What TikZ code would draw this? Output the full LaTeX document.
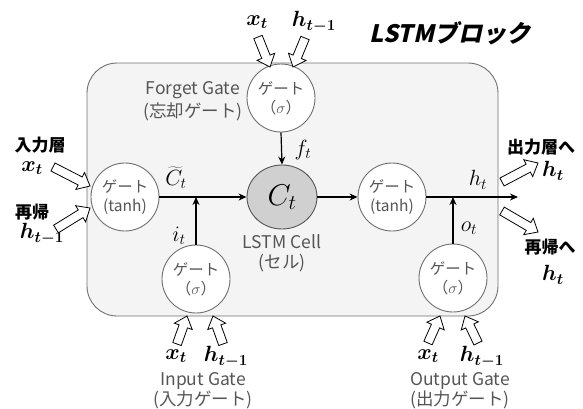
\RequirePackage{fix-cm}
\documentclass[tikz,border=0pt]{standalone}
\usepackage{fontspec}
\usepackage{bm}
\usetikzlibrary{calc,arrows.meta,shapes.geometric}
\newfontfamily\jp{Noto Sans CJK JP}
\newfontfamily\jpsl[FakeSlant=0.22]{Noto Sans CJK JP}
\definecolor{blockfill}{HTML}{F4F4F4}
\definecolor{blockline}{HTML}{707070}
\definecolor{txtgray}{HTML}{555555}
\definecolor{cellfill}{HTML}{D0D0D0}
\newcommand{\hollowarrow}[2]{%
  \coordinate (ban) at ($(#2)!11pt!(#1)$);
  \draw[barrow] ($(#1)!4.5pt!90:(#2)$) -- ($(ban)!4.5pt!90:(#2)$) -- ($(ban)!9.5pt!90:(#2)$) -- (#2)
    -- ($(ban)!9.5pt!-90:(#2)$) -- ($(ban)!4.5pt!-90:(#2)$) -- ($(#1)!4.5pt!-90:(#2)$) -- cycle;}
\begin{document}
\begin{tikzpicture}[x=1pt,y=-1pt,
  gate/.style={circle,draw=blockline,fill=white,line width=0.9pt,minimum size=68pt,inner sep=0pt,
    align=center,text=txtgray,font=\jp\fontsize{15.5}{19}\selectfont},
  flow/.style={line width=1.2pt,-{Stealth[length=8pt,width=7pt]}},
  barrow/.style={draw=black,fill=white,line width=0.8pt,line join=miter},
  gtxt/.style={text=txtgray,font=\jp\fontsize{17.5}{20}\selectfont,inner sep=0pt},
  btxt/.style={text=black,font=\jp\bfseries\fontsize{17}{20}\selectfont,inner sep=0pt},
  bmath/.style={font=\fontsize{22}{25}\selectfont,inner sep=0pt},
  lmath/.style={font=\fontsize{22}{25}\selectfont,inner sep=0pt}]
\useasboundingbox (0,0) rectangle (583,408);
% block
\draw[draw=blockline,fill=blockfill,line width=0.9pt,rounded corners=30pt] (87,63) rectangle (498,316);
\node[font=\jpsl\bfseries\fontsize{24}{28}\selectfont,inner sep=0pt] (title) at (450,33) {LSTMブロック};
% gates
\node[gate] (FG) at (281,98) {ゲート\\（$\sigma$）};
\node[gate] (TL) at (125,197) {ゲート\\(tanh)};
\node[gate] (IG) at (196,279) {ゲート\\（$\sigma$）};
\node[gate] (TR) at (392,197) {ゲート\\(tanh)};
\node[gate] (OG) at (453,278) {ゲート\\（$\sigma$）};
\node[ellipse,draw=txtgray,fill=cellfill,line width=0.9pt,minimum width=70pt,minimum height=64pt,inner sep=0pt,font=\fontsize{30}{32}\selectfont] (C) at (282,197) {$C_t$};
% flows
\coordinate (hout) at (518,197);
\draw[flow] (TL.east) -- (C.west);
\draw[flow] (FG.south) -- (C.north);
\draw[flow] (C.east) -- (TR.west);
\draw[flow] (TR.east) -- (hout);
\draw[flow] (IG.north) -- (IG.north |- TL.east);
\draw[flow] (OG.north) -- (OG.north |- TR.east);
% inner labels
\node[lmath] (ctil) at (176,178) {$\widetilde{C}_t$};
\node[lmath] (ft) at (303,150) {$f_t$};
\node[lmath] (it) at (179,236) {$i_t$};
\node[lmath] (ht) at (478,180) {$h_t$};
\node[lmath] (ot) at (469,228) {$o_t$};
\node[gtxt,anchor=east] (fgl1) at (240,90) {Forget Gate};
\node[gtxt,anchor=east] (fgl2) at (243,112) {(忘却ゲート)};
\node[gtxt] (cl1) at (282,242) {LSTM Cell};
\node[gtxt] (cl2) at (282,263) {(セル)};
\node[gtxt] (igl1) at (203,381) {Input Gate};
\node[gtxt] (igl2) at (203,400) {(入力ゲート)};
\node[gtxt] (ogl1) at (460,381) {Output Gate};
\node[gtxt] (ogl2) at (460,400) {(出力ゲート)};
% outer labels
\node[btxt] (inl) at (40,145) {入力層};
\node[bmath] (inx) at (32,168) {$\bm{x_t}$};
\node[btxt] (rel) at (32,212) {再帰};
\node[bmath] (reh) at (42,234) {$\bm{h_{t-1}}$};
\node[btxt] (outl) at (541,147) {出力層へ};
\node[bmath] (outh) at (553,171) {$\bm{h_t}$};
\node[btxt] (rol) at (550,247) {再帰へ};
\node[bmath] (roh) at (553,275) {$\bm{h_t}$};
\node[bmath] (fx) at (257,22) {$\bm{x_t}$};
\node[bmath] (fh) at (314,22) {$\bm{h_{t-1}}$};
\node[bmath] (ix) at (176,356) {$\bm{x_t}$};
\node[bmath] (ih) at (226,357) {$\bm{h_{t-1}}$};
\node[bmath] (ox) at (428,356) {$\bm{x_t}$};
\node[bmath] (oh) at (482,357) {$\bm{h_{t-1}}$};
% hollow arrows
\coordinate (a1s) at (258,37); \coordinate (a1t) at (270,67);
\coordinate (a2s) at (305,38); \coordinate (a2t) at (293,67);
\coordinate (a3s) at (53,167); \coordinate (a3t) at (90,186);
\coordinate (a4s) at (56,229); \coordinate (a4t) at (90,208);
\coordinate (a5s) at (177,344); \coordinate (a5t) at (187,316);
\coordinate (a6s) at (223,344); \coordinate (a6t) at (213,316);
\coordinate (a7s) at (428,343); \coordinate (a7t) at (440,316);
\coordinate (a8s) at (478,343); \coordinate (a8t) at (465,316);
\coordinate (a9s) at (502,182); \coordinate (a9t) at (538,163);
\coordinate (a10s) at (502,211); \coordinate (a10t) at (538,232);
\hollowarrow{a1s}{a1t}
\hollowarrow{a2s}{a2t}
\hollowarrow{a3s}{a3t}
\hollowarrow{a4s}{a4t}
\hollowarrow{a5s}{a5t}
\hollowarrow{a6s}{a6t}
\hollowarrow{a7s}{a7t}
\hollowarrow{a8s}{a8t}
\hollowarrow{a9s}{a9t}
\hollowarrow{a10s}{a10t}
\end{tikzpicture}
\end{document}
